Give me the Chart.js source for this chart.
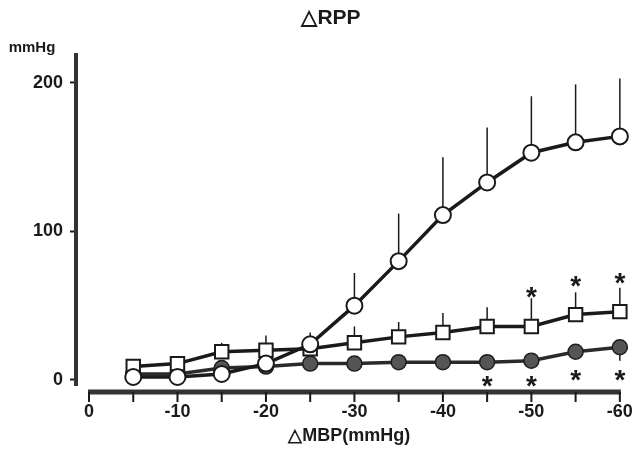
<!DOCTYPE html>
<html>
<head>
<meta charset="utf-8">
<script src="https://cdn.jsdelivr.net/npm/chart.js@4.4.0/dist/chart.umd.min.js"></script>
<style>
  html, body { margin: 0; padding: 0; background: #fff; }
</style>
</head>
<body>
<canvas id="rpp" width="634" height="459"></canvas>
<script>
// ΔMBP steps (mmHg)
const dMBP = [-5, -10, -15, -20, -25, -30, -35, -40, -45, -50, -55, -60];

// ΔRPP means and upper error bars
const openCircle = [2, 2, 4, 11, 24, 50, 80, 111, 133, 153, 160, 164];
const openCircleErr = [0, 0, 0, 0, 8, 22, 32, 39, 37, 38, 39, 39];
const openSquare = [9, 11, 19, 20, 21, 25, 29, 32, 36, 36, 44, 46];
const openSquareErr = [0, 0, 6, 10, 0, 11, 10, 13, 13, 19, 15, 16];
const filledCircle = [4, 4, 8, 9, 11, 11, 12, 12, 12, 13, 19, 22];
const filledCircleErr = [0, 0, 0, 0, 0, 0, 0, 0, 0, 0, 0, -9];

// significance marks (x, y in data units)
const starAboveX = [-50, -55, -60];
const starAboveY = [59, 66, 68];
const starBelowX = [-45, -50, -55, -60];
const starBelowY = [-1, -1, 3, 3];

const xTickStep = 5;
const yTickStep = 100;

const FONT = '"Liberation Sans", Arial, Helvetica, sans-serif';
const INK = '#1a1a1a';

const pts = (ys) => dMBP.map((x, i) => ({ x: x, y: ys[i] }));

const extras = {
  id: 'extras',
  beforeDatasetsDraw(chart) {
    const { ctx, scales: { x, y } } = chart;
    ctx.save();
    // error bars (drawn under the markers)
    ctx.strokeStyle = INK;
    ctx.lineWidth = 1.5;
    chart.data.datasets.forEach(ds => {
      if (!ds.err) return;
      ds.data.forEach((p, i) => {
        const e = ds.err[i];
        if (!e) return;
        const px = x.getPixelForValue(p.x);
        ctx.beginPath();
        ctx.moveTo(px, y.getPixelForValue(p.y));
        ctx.lineTo(px, y.getPixelForValue(p.y + e));
        ctx.stroke();
      });
    });
    // detached x axis
    const y0 = chart.chartArea.bottom + 7;
    ctx.strokeStyle = '#333';
    ctx.lineWidth = 5;
    ctx.beginPath();
    ctx.moveTo(x.getPixelForValue(0) - 1, y0);
    ctx.lineTo(x.getPixelForValue(-60) + 1, y0);
    ctx.stroke();
    ctx.lineWidth = 2;
    ctx.strokeStyle = INK;
    x.ticks.forEach(t => {
      if (t.value > 0 || t.value < -60) return;
      const px = x.getPixelForValue(t.value);
      ctx.beginPath();
      ctx.moveTo(px, y0);
      ctx.lineTo(px, y0 + 10);
      ctx.stroke();
    });
    ctx.restore();
  },
  afterDatasetsDraw(chart) {
    const { ctx, scales: { x, y } } = chart;
    ctx.save();
    ctx.fillStyle = INK;
    ctx.font = 'bold 28px ' + FONT;
    ctx.textAlign = 'center';
    ctx.textBaseline = 'alphabetic';
    const m = ctx.measureText('*');
    const off = (m.actualBoundingBoxAscent - m.actualBoundingBoxDescent) / 2;
    const star = (xs, ys) => xs.forEach((v, i) => {
      ctx.fillText('*', x.getPixelForValue(v), y.getPixelForValue(ys[i]) + off);
    });
    star(starAboveX, starAboveY);
    star(starBelowX, starBelowY);
    ctx.restore();
  },
  afterDraw(chart) {
    const ctx = chart.ctx;
    ctx.save();
    ctx.fillStyle = INK;
    ctx.textAlign = 'center';
    ctx.textBaseline = 'middle';
    ctx.font = 'bold 21px ' + FONT;
    ctx.fillText('\u25B3RPP', 331, 18);
    ctx.font = 'bold 15px ' + FONT;
    ctx.fillText('mmHg', 32, 48);
    ctx.restore();
  }
};

new Chart(document.getElementById('rpp'), {
  type: 'line',
  data: {
    datasets: [
      {
        data: pts(openCircle),
        err: openCircleErr,
        borderColor: INK,
        borderWidth: 3.5,
        pointStyle: 'circle',
        pointRadius: 8,
        pointBorderWidth: 2,
        pointBackgroundColor: '#fff',
        pointBorderColor: INK,
        order: 0
      },
      {
        data: pts(openSquare),
        err: openSquareErr,
        borderColor: INK,
        borderWidth: 3.5,
        pointStyle: 'rect',
        pointRadius: 9.5,
        pointBorderWidth: 2,
        pointBackgroundColor: '#fff',
        pointBorderColor: INK,
        order: 1
      },
      {
        data: pts(filledCircle),
        err: filledCircleErr,
        borderColor: '#2a2a2a',
        borderWidth: 3.5,
        pointStyle: 'circle',
        pointRadius: 7.5,
        pointBorderWidth: 1.5,
        pointBackgroundColor: '#555',
        pointBorderColor: '#1e1e1e',
        order: 2
      }
    ]
  },
  options: {
    responsive: false,
    animation: false,
    clip: false,
    layout: { padding: { top: 55, right: 6, bottom: 0, left: 0 } },
    plugins: { legend: { display: false }, title: { display: false }, tooltip: { enabled: false } },
    elements: { line: { tension: 0 } },
    scales: {
      x: {
        type: 'linear',
        reverse: true,
        min: -60.3,
        max: 1.47,
        afterFit: s => { s.height = 74; s.paddingLeft = 0; s.paddingRight = 0; },
        grid: { display: false, drawTicks: false },
        border: { display: false },
        ticks: {
          stepSize: xTickStep,
          includeBounds: false,
          padding: 16,
          color: INK,
          font: { family: FONT, size: 18, weight: 'bold' },
          callback: v => (v % 10 === 0 ? String(v) : '')
        },
        title: {
          display: true,
          text: '\u25B3MBP(mmHg)',
          color: INK,
          font: { family: FONT, size: 18, weight: 'bold' },
          padding: { top: 0, bottom: 12 }
        }
      },
      y: {
        type: 'linear',
        min: -3.4,
        max: 218.8,
        afterFit: s => { s.width = 76; },
        grid: { drawOnChartArea: false, drawTicks: true, tickLength: 6, tickWidth: 2, tickColor: INK },
        border: { display: true, width: 4, color: '#333' },
        ticks: {
          stepSize: yTickStep,
          includeBounds: false,
          padding: 7,
          color: INK,
          font: { family: FONT, size: 18, weight: 'bold' },
          callback: v => (v % 100 === 0 ? String(v) : '')
        }
      }
    }
  },
  plugins: [extras]
});
</script>
</body>
</html>
